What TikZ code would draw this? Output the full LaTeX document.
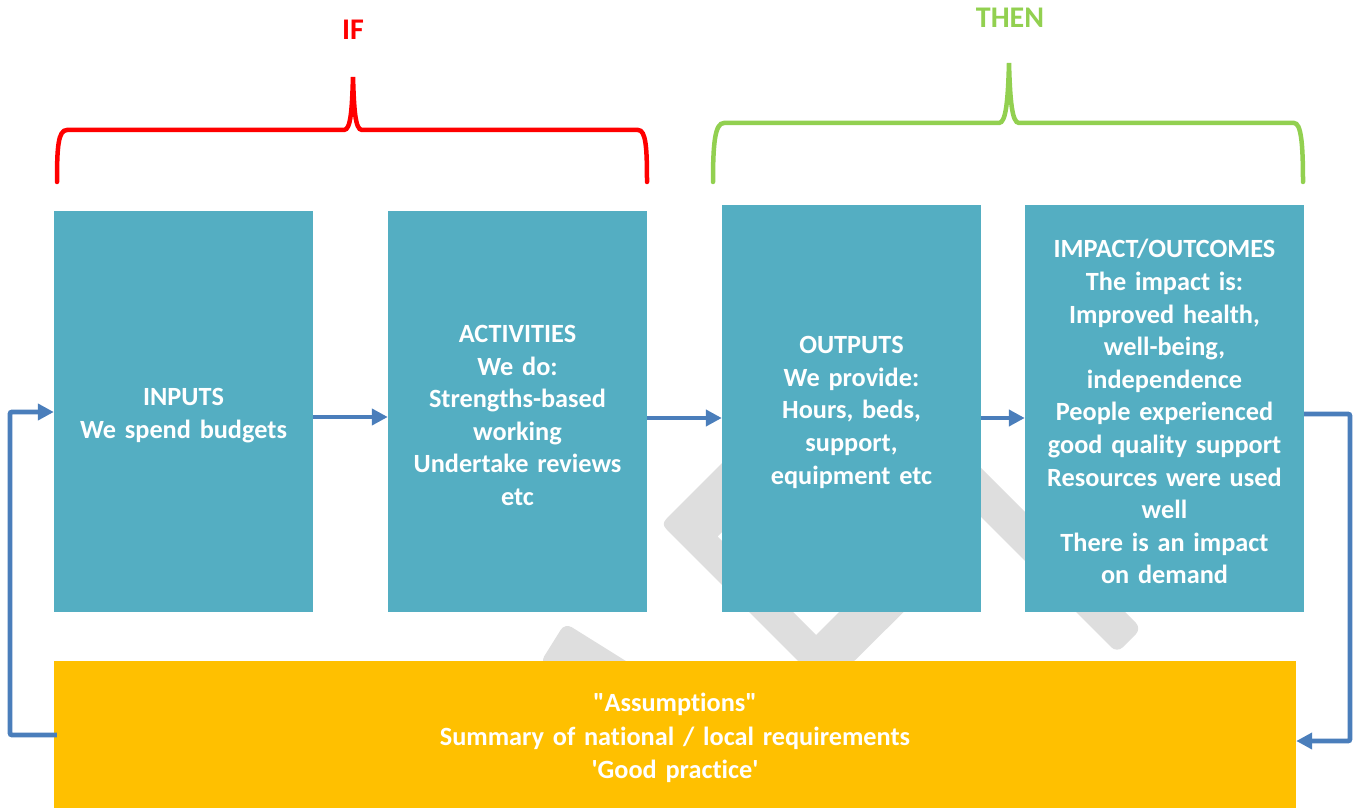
\documentclass[tikz,border=0pt]{standalone}
\usepackage{fontspec}
\setmainfont{Carlito}[Ligatures={NoCommon}, WordSpace=0.9]
\usetikzlibrary{arrows.meta}
\definecolor{teal1}{HTML}{54AEC2}
\definecolor{gold1}{HTML}{FFC000}
\definecolor{blue1}{HTML}{4A7EBB}
\definecolor{red1}{HTML}{FF0000}
\definecolor{green1}{HTML}{92D050}
\definecolor{wmgray}{HTML}{DEDEDE}
\newcommand{\toppad}{\rule{0pt}{25pt}}
\tikzset{
  tealbox/.style={fill=teal1, draw=none, text=white, font=\fontsize{26.3}{32.6}\selectfont\bfseries,
    align=center, inner sep=0pt, minimum width=259pt, minimum height=401pt, text width=255pt},
  goldbox/.style={fill=gold1, draw=none, text=white, font=\fontsize{26.3}{33.5}\selectfont\bfseries,
    align=center, inner sep=0pt, minimum width=1242pt, minimum height=147pt, text width=1200pt},
  flowarrow/.style={draw=blue1, line width=4.8pt, -{Triangle[length=16pt,width=16pt]}},
  loopline/.style={draw=blue1, line width=4.8pt, rounded corners=2pt},
  bracered/.style={draw=red1, line width=4.5pt, line cap=round},
  bracegreen/.style={draw=green1, line width=4.5pt, line cap=round},
  headlabel/.style={font=\fontsize{30}{36}\selectfont\bfseries, inner sep=0pt},
  wm/.style={fill=wmgray, draw=none}
}
\begin{document}
\begin{tikzpicture}[x=1pt,y=-1pt]
\useasboundingbox (0,0) rectangle (1355,810);
% watermark
\fill[wm] (770,415) -- (672,513) .. controls (661,524) .. (672,535) -- (826,689) -- (950,566) -- (920,531) -- (816,635) -- (717.5,536.5) -- (800,454) -- cycle;
\fill[wm, rounded corners=8pt] (940,427) -- (1141.5,628.5) -- (1117,653) -- (916,452) -- cycle;
\fill[wm, rounded corners=8pt] (540,663) -- (565,623) -- (690,701) -- (620,713) -- cycle;
% boxes
\node[tealbox] (inputs) at (183.5,411.5) {\toppad INPUTS\\We spend budgets};
\node[tealbox] (activities) at (517.5,411.5) {\toppad ACTIVITIES\\We do:\\Strengths-based\\working\\Undertake reviews\\etc};
\node[tealbox, minimum height=407pt] (outputs) at (851.5,408.5) {\toppad OUTPUTS\\We provide:\\Hours, beds,\\support,\\equipment etc};
\node[tealbox, minimum height=407pt, minimum width=279pt, text width=275pt] (impact) at (1164.5,408.5) {\toppad IMPACT/OUTCOMES\\The impact is:\\Improved health,\\well-being,\\independence\\People experienced\\good quality support\\Resources were used\\well\\There is an impact\\on demand};
\node[goldbox] (assume) at (675,734.5) {\rule{0pt}{26pt}\textquotedbl Assumptions\textquotedbl\\Summary of national / local requirements\\\textquotesingle Good practice\textquotesingle};
% flow arrows
\draw[flowarrow] ([yshift=-5.5pt]inputs.east) -- ([yshift=-5.5pt]inputs.east -| activities.west);
\draw[flowarrow] ([yshift=-6.5pt]activities.east) -- ([yshift=-6.5pt]activities.east -| outputs.west);
\draw[flowarrow] ([yshift=-9.5pt]outputs.east) -- ([yshift=-9.5pt]outputs.east -| impact.west);
% loops
\coordinate (lx) at (10,0);
\coordinate (rx) at (1350,0);
\draw[loopline] ([xshift=3pt,yshift=-0.5pt]assume.west) -- ([yshift=-0.5pt]assume.west -| lx) -- ([yshift=-0.5pt]inputs.west -| lx) -- ([xshift=-14pt,yshift=-0.5pt]inputs.west);
\draw[flowarrow] ([xshift=-16pt,yshift=-0.5pt]inputs.west) -- ([yshift=-0.5pt]inputs.west);
\draw[loopline] ([yshift=-5.5pt]impact.east) -- ([yshift=-5.5pt]impact.east -| rx) -- ([yshift=-6.5pt]assume.east -| rx) -- ([xshift=14pt,yshift=-6.5pt]assume.east);
\draw[flowarrow] ([xshift=16pt,yshift=-6.5pt]assume.east) -- ([yshift=-6.5pt]assume.east);
% braces
\draw[bracered] (57,182) .. controls (57,148) and (58,130) .. (67,130) -- (344,130) .. controls (351,130) and (352,108) .. (353,77) .. controls (354,108) and (355,130) .. (362,130) -- (638,130) .. controls (646,130) and (647,148) .. (647,182);
\draw[bracegreen] (713,182) .. controls (713,143) and (715,123) .. (724,123) -- (999,123) .. controls (1006,123) and (1008,100) .. (1009,63) .. controls (1010,100) and (1012,123) .. (1019,123) -- (1294,123) .. controls (1301,123) and (1303,143) .. (1303,182);
\node[headlabel, text=red1] (iflabel) at (353,30) {IF};
\node[headlabel, text=green1] (thenlabel) at (1010,18) {THEN};
\end{tikzpicture}
\end{document}
